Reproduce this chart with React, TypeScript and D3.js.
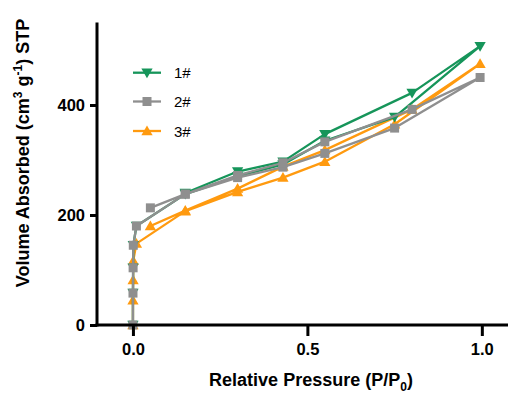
import React, { useEffect, useRef } from 'react';
import * as d3 from 'd3';

// P/P0 and volume for each sample, adsorption branch then desorption branch
const s1X = [0, 0.0001, 0.0005, 0.001, 0.01, 0.15, 0.3, 0.43, 0.55, 0.75, 0.995, 0.8, 0.55, 0.43, 0.3, 0.15];
const s1Y = [0, 58, 104, 145, 180, 238, 270, 292, 335, 378, 507, 422, 347, 297, 279, 240];

const s2X = [0, 0.0001, 0.0005, 0.001, 0.01, 0.15, 0.3, 0.43, 0.55, 0.75, 0.995, 0.8, 0.55, 0.43, 0.3, 0.15, 0.05];
const s2Y = [0, 58, 104, 145, 180, 238, 268, 287, 312, 358, 450, 392, 333, 295, 272, 238, 213];

const s3X = [0, 0.0001, 0.0005, 0.001, 0.01, 0.15, 0.3, 0.43, 0.55, 0.75, 0.995, 0.8, 0.55, 0.43, 0.3, 0.15, 0.05];
const s3Y = [0, 45, 82, 117, 148, 207, 242, 268, 297, 365, 475, 392, 318, 288, 248, 208, 180];

const seriesNames = ['1#', '2#', '3#'];
const seriesColors = ['#16955a', '#8f8f8f', '#ff9a0f'];
const xTicks = [0, 0.5, 1.0];
const yTicks = [0, 200, 400];

const App = () => {
  const svgRef = useRef<SVGSVGElement>(null);

  useEffect(() => {
    const svg = d3.select(svgRef.current);
    svg.selectAll('*').remove();

    const font = '"Liberation Sans", Arial, Helvetica, sans-serif';
    const x = d3.scaleLinear().domain([-0.103, 1.075]).range([97, 508]);
    const y = d3.scaleLinear().domain([0, 550]).range([325, 22.5]);

    const series = [
      { name: seriesNames[0], color: seriesColors[0], xs: s1X, ys: s1Y, shape: 'down' },
      { name: seriesNames[1], color: seriesColors[1], xs: s2X, ys: s2Y, shape: 'square' },
      { name: seriesNames[2], color: seriesColors[2], xs: s3X, ys: s3Y, shape: 'up' },
    ];

    const symbolFor = (shape: string) => {
      if (shape === 'square') return d3.symbol().type(d3.symbolSquare).size(81)();
      return d3.symbol().type(d3.symbolTriangle).size(55)();
    };
    const markTransform = (shape: string, px: number, py: number) =>
      `translate(${px},${py + (shape === 'up' ? 1 : shape === 'down' ? -1 : 0)})${shape === 'down' ? ' rotate(180)' : ''}`;

    const line = d3.line<[number, number]>()
      .x(d => x(d[0]))
      .y(d => y(d[1]));

    // draw order: orange, green, gray on top
    const drawOrder = [2, 0, 1];
    drawOrder.forEach(i => {
      const s = series[i];
      const pts: [number, number][] = s.xs.map((v, j) => [v, s.ys[j]]);
      const g = svg.append('g');
      g.append('path')
        .datum(pts)
        .attr('fill', 'none')
        .attr('stroke', s.color)
        .attr('stroke-width', 2.3)
        .attr('stroke-linejoin', 'round')
        .attr('d', line);
      g.selectAll('path.m')
        .data(pts)
        .enter()
        .append('path')
        .attr('class', 'm')
        .attr('d', symbolFor(s.shape))
        .attr('fill', s.color)
        .attr('transform', d => markTransform(s.shape, x(d[0]), y(d[1])));
    });

    // y axis
    const yAxis = svg.append('g')
      .attr('transform', `translate(${x(-0.103)},0)`)
      .call(d3.axisLeft(y).tickValues(yTicks).tickSize(7).tickPadding(5).tickFormat(d3.format('d')));
    yAxis.select('.domain').remove();
    yAxis.selectAll('.tick line').attr('stroke', '#000').attr('stroke-width', 3);
    yAxis.selectAll('.tick text')
      .attr('fill', '#000')
      .style('font-family', font)
      .style('font-weight', 'bold')
      .style('font-size', '16.5px');
    svg.append('line')
      .attr('x1', 97).attr('x2', 97)
      .attr('y1', y(550)).attr('y2', y(0) + 1.5)
      .attr('stroke', '#000').attr('stroke-width', 3);

    // x axis
    const xAxis = svg.append('g')
      .attr('transform', `translate(0,${y(0)})`)
      .call(d3.axisBottom(x).tickValues(xTicks).tickSize(11).tickPadding(7.5).tickFormat(d3.format('.1f')));
    xAxis.select('.domain').remove();
    xAxis.selectAll('.tick line').attr('stroke', '#000').attr('stroke-width', 3);
    xAxis.selectAll('.tick text')
      .attr('fill', '#000')
      .style('font-family', font)
      .style('font-weight', 'bold')
      .style('font-size', '16.5px');
    svg.append('line')
      .attr('x1', 95.5).attr('x2', 508)
      .attr('y1', y(0)).attr('y2', y(0))
      .attr('stroke', '#000').attr('stroke-width', 3);

    // axis titles
    const xt = svg.append('text')
      .attr('x', 311).attr('y', 386)
      .attr('text-anchor', 'middle')
      .style('font-family', font)
      .style('font-weight', 'bold')
      .style('font-size', '18px');
    xt.append('tspan').text('Relative Pressure (P/P');
    xt.append('tspan').attr('dy', 5).style('font-size', '12px').text('0');
    xt.append('tspan').attr('dy', -5).text(')');

    const yt = svg.append('text')
      .attr('transform', 'translate(29,153) rotate(-90)')
      .attr('text-anchor', 'middle')
      .style('font-family', font)
      .style('font-weight', 'bold')
      .style('font-size', '18px');
    yt.append('tspan').text('Volume Absorbed (cm');
    yt.append('tspan').attr('dy', -7).style('font-size', '12px').text('3');
    yt.append('tspan').attr('dy', 7).text(' g');
    yt.append('tspan').attr('dy', -7).style('font-size', '12px').text('-1');
    yt.append('tspan').attr('dy', 7).text(') STP');

    // legend
    const legend = svg.append('g');
    series.forEach((s, i) => {
      const ly = [72.7, 101.5, 131][i];
      legend.append('line')
        .attr('x1', 133).attr('x2', 161)
        .attr('y1', ly).attr('y2', ly)
        .attr('stroke', s.color).attr('stroke-width', 2.3);
      legend.append('path')
        .attr('d', symbolFor(s.shape))
        .attr('fill', s.color)
        .attr('transform', markTransform(s.shape, 147, ly));
      legend.append('text')
        .attr('x', 174).attr('y', ly + 5.5)
        .style('font-family', font)
        .style('font-size', '15px')
        .text(s.name);
    });
  }, []);

  return (
    <svg
      ref={svgRef}
      width={508}
      height={394}
      style={{ position: 'absolute', left: 0, top: 0, background: '#fff' }}
    />
  );
};

export default App;
